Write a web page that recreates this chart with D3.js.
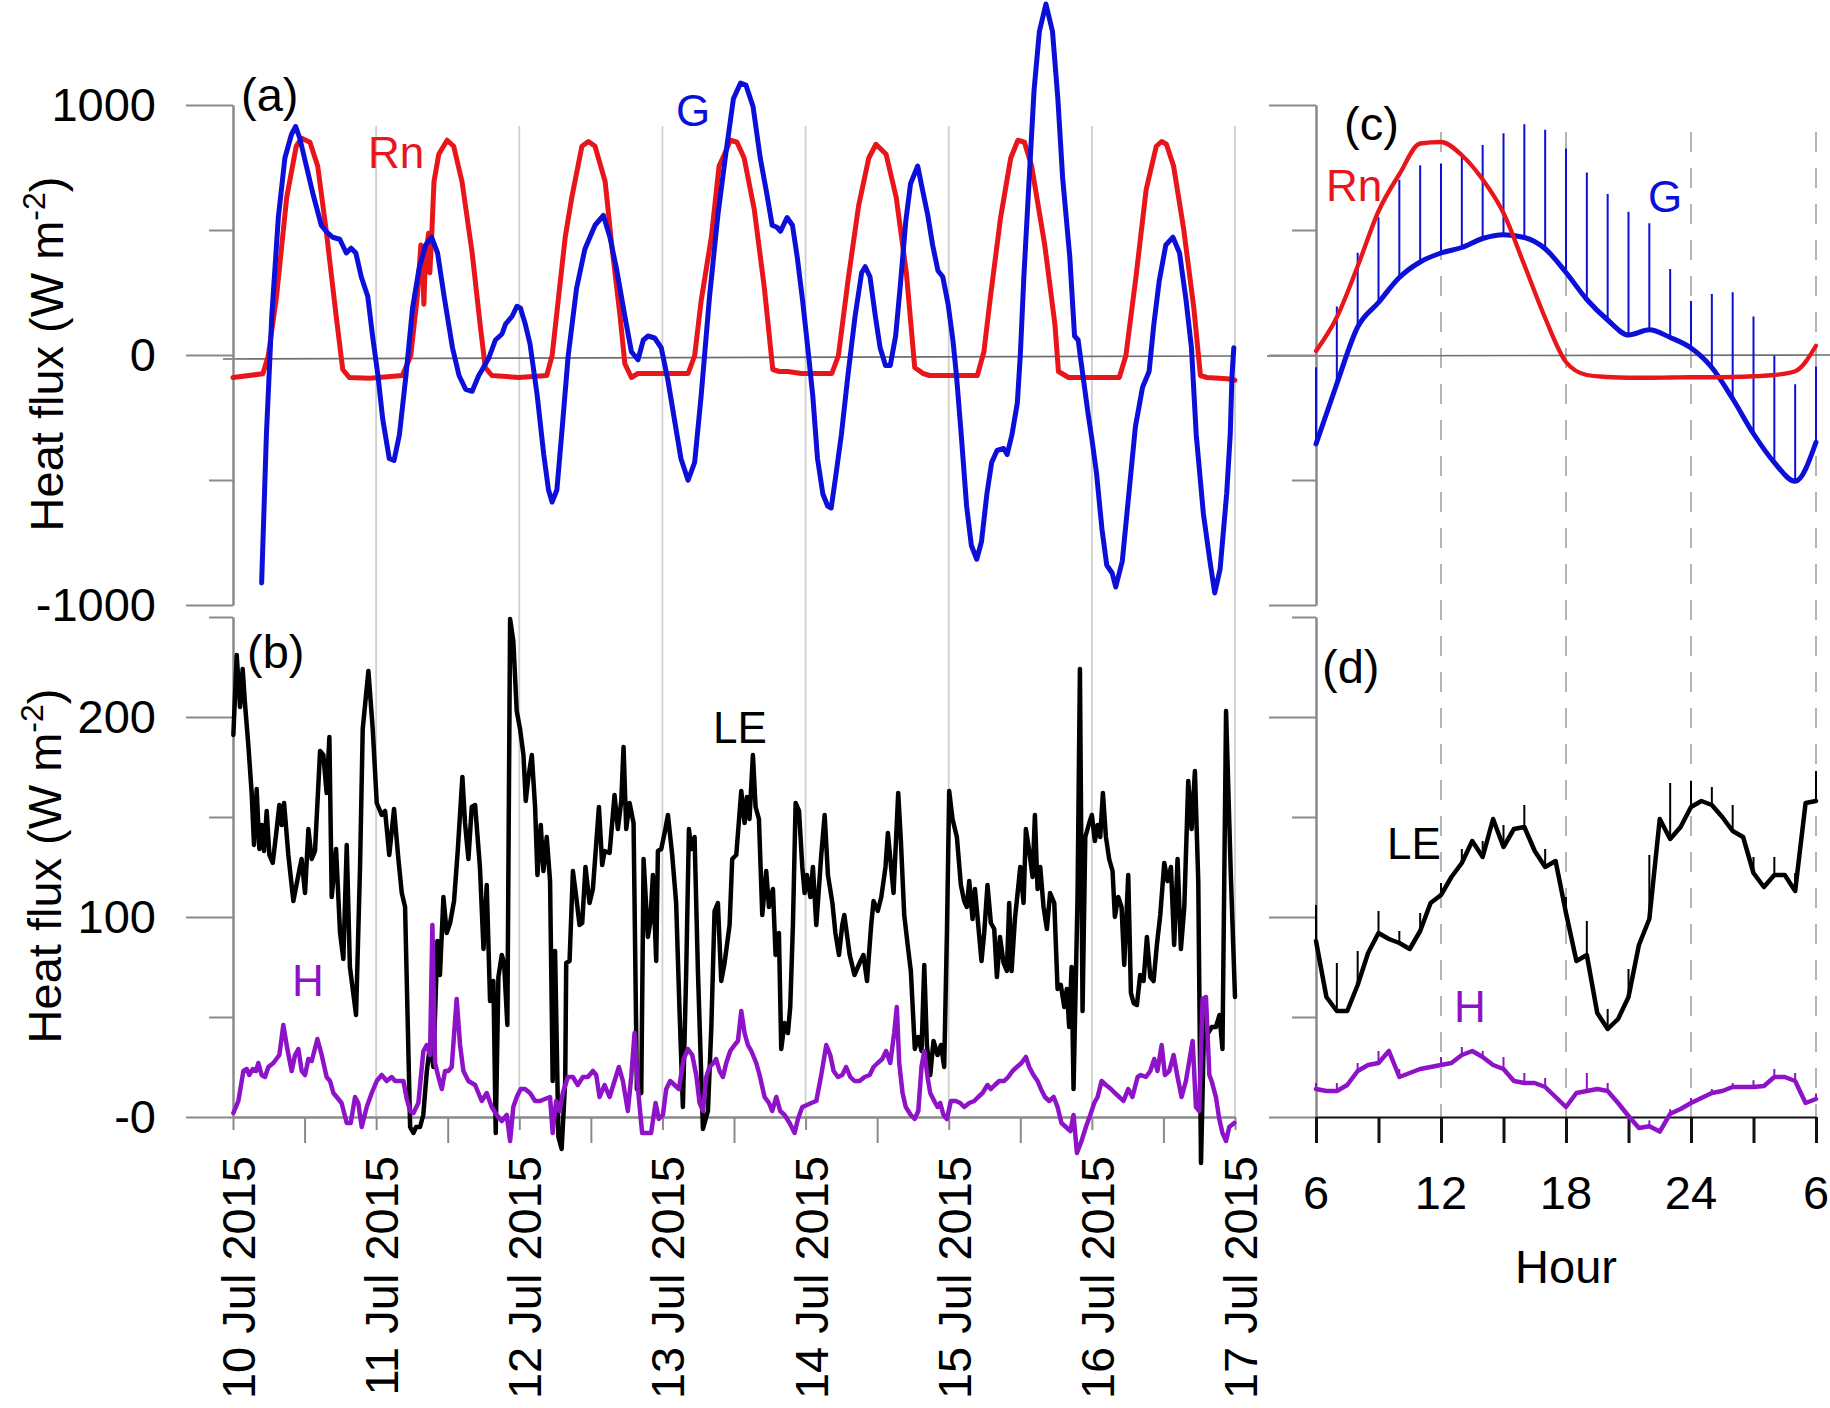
<!DOCTYPE html>
<html><head><meta charset="utf-8">
<script src="https://cdn.jsdelivr.net/npm/d3@7"></script>
<style>
body{margin:0;background:#fff}
svg{display:block}
text{font-family:"Liberation Sans",Arial,Helvetica,sans-serif}
</style>
</head><body>
<svg id="chart" width="1830" height="1408"></svg>
<script>
// ---------------- DATA ----------------
// Panel (a): [hour since 10 Jul 2015 00:00, W m-2]
const rnSeries = [[0,-90],[5,-75],[5.9,-5],[7.3,234],[9,630],[10.6,835],[11.5,867],[12.9,851],[14.2,756],[15.6,503],[17.3,155],[18.4,-58],[19.5,-90],[22.9,-93],[28.4,-82],[29.8,-3],[30.9,234],[31.5,440],[31.8,345],[32.0,203],[32.3,408],[32.8,487],[33.0,329],[33.3,471],[33.7,693],[34.5,803],[35.9,859],[37.0,835],[38.4,693],[40.1,408],[41.5,108],[42.3,-50],[43.4,-82],[47.9,-90],[52.6,-82],[53.5,-3],[54.6,234],[55.7,471],[56.8,630],[58.5,835],[59.6,854],[60.7,835],[62.4,693],[63.5,440],[64.9,155],[65.7,-35],[66.8,-90],[67.9,-74],[71.8,-74],[76.3,-74],[77.4,-3],[78.5,218],[80.2,471],[81.5,756],[82.4,803],[83.4,859],[84.5,851],[85.7,788],[87.4,582],[89.1,266],[90.5,-58],[91.6,-66],[93,-66],[95.3,-74],[100.4,-74],[101.5,-3],[103.2,313],[104.9,598],[106.6,788],[107.8,843],[109.5,803],[111.2,630],[112.9,329],[114.3,-50],[115.7,-74],[116.8,-82],[124.8,-82],[125.9,13],[127.0,234],[128.7,550],[130.4,788],[131.6,859],[132.7,851],[133.9,756],[136.1,440],[137.8,124],[138.4,-66],[140.1,-90],[148.6,-90],[149.7,-3],[151.4,313],[153.1,661],[154.8,835],[155.7,854],[156.5,843],[157.7,756],[159.4,503],[161.1,187],[162.2,-82],[163.3,-90],[166.7,-95],[168,-101]];
const gSeries = [[4.8,-912],[5.6,-319],[6.5,155],[7.6,550],[8.7,788],[9.8,882],[10.5,914],[11.2,867],[12.3,756],[13.4,645],[14.8,519],[15.6,495],[16.7,471],[17.9,463],[19.0,408],[19.8,427],[20.6,408],[21.5,313],[22.6,234],[23.4,76],[24.3,-82],[25.1,-256],[26.2,-414],[27.0,-422],[27.9,-319],[29.0,-82],[30.1,187],[31.2,345],[32.3,440],[33.3,471],[34.3,408],[35.4,234],[36.8,29],[37.9,-82],[39.0,-137],[40.1,-145],[41.2,-82],[41.8,-58],[42.9,-11],[44.0,60],[45.1,84],[45.7,124],[46.8,155],[47.6,195],[48.2,187],[49.0,124],[49.8,44],[51.0,-161],[52.1,-398],[52.9,-540],[53.5,-588],[54.3,-540],[55.1,-319],[56.2,-3],[57.6,266],[59.0,424],[60.7,519],[62.1,558],[63.2,471],[64.3,345],[65.7,155],[66.8,13],[67.9,-19],[68.8,60],[69.6,76],[70.7,68],[71.8,29],[72.9,-98],[74.0,-256],[75.1,-414],[76.3,-501],[77.4,-430],[78.5,-161],[79.9,234],[81.3,560],[82.6,800],[83.9,1025],[85.1,1088],[86.0,1080],[87.2,993],[88.4,788],[89.5,645],[90.4,519],[91.2,511],[91.8,495],[92.9,550],[93.8,519],[94.6,392],[95.5,218],[96.3,44],[97.2,-161],[98.0,-414],[98.9,-556],[99.7,-604],[100.3,-612],[101.1,-477],[102.0,-319],[103.1,-82],[104.3,155],[105.4,329],[106.0,353],[106.8,313],[107.7,155],[108.5,29],[109.4,-42],[110.2,-42],[111.1,76],[111.9,282],[112.8,535],[113.6,685],[114.8,756],[115.6,661],[116.5,558],[117.3,440],[118.2,337],[119.0,313],[119.9,203],[120.7,60],[121.3,-82],[122.1,-319],[123.0,-604],[123.8,-762],[124.7,-817],[125.5,-746],[126.4,-556],[127.2,-430],[128.1,-382],[129.2,-374],[129.8,-398],[130.6,-319],[131.5,-193],[132.0,-3],[132.6,313],[133.5,709],[134.3,1056],[135.2,1294],[136.3,1404],[137.4,1294],[138.3,1025],[139.1,709],[140.3,392],[141.1,76],[141.7,60],[142.5,-82],[143.4,-240],[144.0,-335],[144.8,-477],[145.7,-698],[146.5,-841],[147.4,-872],[148.0,-928],[149.1,-825],[150.2,-556],[151.3,-287],[152.5,-129],[153.6,-66],[154.4,124],[155.3,297],[156.4,440],[157.6,471],[158.7,408],[159.8,218],[160.7,29],[161.5,-319],[162.7,-635],[163.8,-825],[164.6,-952],[165.5,-857],[166.6,-556],[167.2,-319],[167.5,-82],[167.8,29]];

// Panel (b)
const leSeries = [[0.06,191],[0.62,231],[1.18,205],[1.62,224],[2.0,207],[2.57,186],[3.13,162],[3.52,136],[3.97,164],[4.42,134],[4.81,146],[5.2,133],[5.65,153],[6.1,131],[6.66,127],[7.33,144],[7.77,156],[8.16,146],[8.56,157],[9.28,131],[10.12,108],[10.96,121],[11.5,129],[12.08,112],[12.64,144],[13.2,129],[13.75,133],[14.6,183],[15.15,181],[15.7,162],[16.16,190],[16.55,110],[17.28,134],[17.95,92],[18.5,79],[19.07,136],[19.6,75],[20.63,51],[21.3,125],[21.75,194],[22.7,223],[23.43,194],[24.1,157],[24.93,151],[25.5,153],[26.2,131],[27.0,154],[27.73,129],[28.3,112],[28.85,105],[29.7,-5],[30.25,-8],[30.7,-5],[31.36,-5],[31.9,1],[32.5,23],[33.04,36],[33.6,25],[34.27,88],[34.7,71],[35.28,110],[35.83,92],[36.4,97],[37.06,108],[37.68,133],[38.46,170],[38.9,147],[39.47,129],[40.03,155],[40.59,156],[41.4,125],[42.0,84],[42.54,116],[43.1,58],[43.66,68],[44.05,-8],[44.5,70],[45.06,81],[45.45,77],[46.0,46],[46.46,249],[47.0,238],[47.57,203],[48.13,194],[48.7,181],[49.08,158],[49.53,170],[50.1,181],[50.65,155],[51.04,121],[51.6,146],[52.05,123],[52.6,140],[53.16,118],[53.6,18],[54.0,83],[54.56,-10],[55.1,-16],[55.7,18],[55.87,77],[56.43,78],[56.99,123],[57.55,110],[58.1,96],[58.55,97],[59.1,125],[59.78,107],[60.34,114],[61.35,155],[61.9,126],[62.3,133],[63.14,132],[63.97,161],[64.53,144],[65.1,158],[65.48,185],[65.93,144],[66.49,157],[67.16,147],[67.72,14],[68.45,12],[68.84,129],[69.56,90],[69.95,97],[70.4,121],[70.96,78],[71.24,133],[71.8,134],[72.5,144],[72.92,151],[73.64,131],[74.3,107],[74.87,53],[75.43,5],[75.99,73],[76.44,144],[76.83,134],[77.39,140],[77.95,73],[78.79,-6],[79.63,3],[80.2,45],[80.74,103],[81.3,107],[81.86,68],[82.42,77],[83.26,96],[83.7,129],[84.38,131],[85.22,163],[85.77,147],[86.17,160],[86.6,149],[87.17,181],[87.62,155],[88.18,149],[88.74,101],[89.4,123],[89.86,105],[90.53,114],[90.97,81],[91.53,92],[91.92,34],[92.48,47],[93.04,42],[93.43,55],[93.88,96],[94.33,157],[94.9,153],[95.45,125],[95.84,112],[96.23,121],[96.8,110],[97.23,125],[97.8,96],[98.63,131],[99.2,151],[99.75,121],[100.5,107],[101.0,92],[101.6,81],[102.15,96],[102.5,101],[103.4,81],[104.2,71],[105.06,77],[105.7,81],[106.3,68],[107.0,96],[107.4,108],[108.1,103],[108.7,110],[109.4,125],[109.8,142],[110.75,112],[111.53,162],[111.98,138],[112.54,101],[113.2,84],[113.65,73],[114.32,34],[114.88,40],[115.44,33],[115.9,76],[116.34,36],[116.9,21],[117.45,38],[118.13,31],[118.7,36],[119.24,25],[119.7,92],[120.08,163],[120.64,149],[121.37,140],[122.04,116],[122.6,108],[123.05,105],[123.44,118],[124.0,99],[124.4,114],[124.95,96],[125.5,78],[125.95,92],[126.5,116],[127.07,97],[127.63,94],[128.08,70],[128.6,90],[129.2,77],[129.75,73],[130.14,107],[130.54,73],[131.1,99],[132.0,125],[132.55,107],[132.94,144],[133.5,133],[134.06,120],[134.45,151],[134.9,114],[135.34,125],[135.9,105],[136.46,94],[137.0,112],[137.7,107],[138.25,64],[138.8,66],[139.37,55],[139.8,64],[140.2,45],[140.6,75],[140.93,14],[141.6,110],[142.0,224],[142.44,53],[142.9,140],[143.56,147],[144.0,151],[144.5,138],[144.96,146],[145.4,140],[145.85,162],[146.36,140],[146.9,129],[147.47,123],[147.86,100],[148.42,110],[148.98,105],[149.43,76],[150.1,121],[150.55,62],[151.0,57],[151.55,56],[152.1,71],[152.67,68],[153.23,90],[153.8,70],[154.35,68],[154.9,86],[155.47,101],[156.14,127],[156.7,118],[157.26,125],[157.8,86],[158.37,129],[158.93,84],[159.5,105],[160.16,168],[160.72,144],[161.28,173],[161.84,118],[162.3,-23],[162.85,51],[163.5,42],[164.1,45],[164.8,45],[165.4,51],[165.9,34],[166.5,203],[167.3,121],[168,60]];
const hSeries = [[0.06,2],[0.9,8],[1.74,23],[2.3,24],[2.74,21],[3.3,24],[3.86,23],[4.25,27],[4.8,21],[5.37,20],[5.93,25],[6.77,27],[7.77,31],[8.44,46],[9.11,34],[9.84,23],[10.4,31],[10.96,34],[11.52,23],[12.08,21],[12.64,29],[13.2,28],[14.15,39],[14.87,31],[15.7,20],[16.27,18],[16.83,12],[17.39,10],[18.2,7],[19.07,-3],[19.74,-3],[20.46,10],[21.0,7],[21.58,-5],[22.42,5],[23.26,12],[24.1,18],[24.93,21],[25.77,18],[26.6,20],[27.17,18],[28.0,18],[28.57,18],[29.13,9],[29.7,3],[30.25,2],[31.08,7],[31.92,33],[32.48,36],[33.04,31],[33.43,96],[33.88,27],[34.44,20],[35.0,14],[35.56,23],[36.1,23],[36.67,25],[37.5,59],[38.07,36],[38.63,23],[39.47,18],[40.6,16],[41.7,8],[42.54,12],[43.38,5],[44.22,1],[45.06,-2],[45.9,1],[46.46,-12],[47.0,5],[47.57,10],[48.24,14],[48.97,14],[49.8,12],[50.65,8],[51.5,8],[52.3,9],[53.16,10],[53.6,-8],[54.17,8],[54.75,3],[55.3,12],[56.15,20],[56.99,20],[57.8,16],[58.66,20],[59.5,20],[60.34,23],[60.9,21],[61.46,10],[62.3,16],[63.14,10],[63.97,18],[64.7,25],[65.37,18],[66.2,3],[66.77,20],[67.33,42],[67.9,14],[68.6,-8],[69.3,-8],[70.1,-8],[70.85,7],[71.4,-1],[72.08,1],[72.64,14],[73.3,18],[74.04,16],[74.76,14],[75.55,29],[76.27,34],[77.0,31],[77.67,21],[78.23,7],[78.79,3],[79.35,20],[79.9,25],[80.58,27],[81.0,29],[81.58,23],[82.14,20],[82.7,27],[83.37,33],[84.1,36],[84.66,38],[85.22,53],[85.77,42],[86.33,36],[86.9,33],[87.73,27],[88.29,21],[89.13,10],[89.86,7],[90.4,3],[91.1,10],[91.75,3],[92.48,1],[93.32,-3],[94.16,-8],[94.72,-1],[95.45,5],[96.23,6],[96.95,7],[97.8,8],[98.63,21],[99.47,36],[100.14,31],[100.7,23],[101.43,20],[102.15,21],[102.8,25],[103.5,20],[104.2,18],[105.06,18],[105.9,20],[106.74,21],[107.4,25],[108.1,27],[108.86,29],[109.5,33],[110.2,27],[110.86,42],[111.3,55],[111.7,27],[112.26,12],[112.8,5],[113.65,1],[114.3,-1],[114.9,3],[115.44,25],[115.9,33],[116.45,20],[116.9,12],[117.57,8],[118.13,5],[118.57,7],[119.13,1],[119.7,-1],[120.36,8],[121.2,8],[121.93,7],[122.6,5],[123.44,7],[124.28,8],[124.95,10],[125.67,12],[126.5,16],[127.07,14],[127.74,16],[128.47,18],[129.3,18],[129.98,20],[130.7,23],[131.43,25],[132.2,27],[132.94,30],[133.5,25],[134.2,21],[134.9,18],[135.46,14],[136.13,10],[136.85,8],[137.6,10],[138.25,5],[138.9,-3],[139.65,-5],[140.4,-7],[140.93,1],[141.5,-18],[142.27,-12],[143.0,-5],[143.73,1],[144.4,7],[144.96,10],[145.63,18],[146.36,16],[147.2,14],[147.86,12],[148.6,10],[149.3,8],[150.1,14],[150.8,10],[151.67,20],[152.2,21],[153.06,20],[153.8,23],[154.46,29],[155.0,23],[155.7,36],[156.25,21],[156.98,23],[157.7,31],[158.37,20],[159.04,10],[159.77,18],[160.5,31],[160.9,38],[161.45,5],[162.0,3],[162.57,59],[163.13,60],[163.7,21],[164.08,18],[164.8,10],[165.36,-1],[165.9,-8],[166.5,-12],[167.04,-5],[167.88,-3]];

// Date tick labels (panel b x-axis)
const dayHours = [0,24,48,72,96,120,144,168];
const dayLabels = ["10 Jul 2015","11 Jul 2015","12 Jul 2015","13 Jul 2015","14 Jul 2015","15 Jul 2015","16 Jul 2015","17 Jul 2015"];
const noonHours = [12,36,60,84,108,132,156];

// Panels (c),(d): mean diurnal course, hour of day 6 -> 30 (= 6 next day)
const hourlyHours = [6,7,8,9,10,11,12,13,14,15,16,17,18,19,20,21,22,23,24,25,26,27,28,29,30];
const rnDiurnal = [16,151,355,575,723,846,852,799,702,568,360,148,-28,-80,-88,-91,-91,-90,-89,-89,-88,-85,-80,-65,37];
const gDiurnal  = [-356,-115,112,210,310,372,408,430,466,481,470,425,330,222,140,80,101,70,28,-50,-175,-315,-430,-505,-349];
const gUpper    = [-49,194,409,551,701,759,766,791,840,887,923,901,826,730,644,573,527,344,216,244,251,154,-3,-117,-46];
const halfHours = [6,6.5,7,7.5,8,8.5,9,9.5,10,10.5,11,11.5,12,12.5,13,13.5,14,14.5,15,15.5,16,16.5,17,17.5,18,18.5,19,19.5,20,20.5,21,21.5,22,22.5,23,23.5,24,24.5,25,25.5,26,26.5,27,27.5,28,28.5,29,29.5,30];
const leDiurnal = [88,60,53,53,66,82,92,89,87,84,93,107,111,120,127,138,130,149,135,144,145,133,125,128,102,78,81,52,44,49,60,86,99,149,139,145,155,158,156,150,143,140,122,115,121,121,113,157,158];
const leUpper   = [106,77,83,103,93,102,117,134,138,146,156,134,110,98,54,74,131,167,168,165,156,130,130,122,173];
const hDiurnal  = [14,13,13,16,23,26,27,33,20,22,24,25,26,27,31,33,30,26,24,18,17,17,15,10,5,12,13,14,13,7,0.5,-5.5,-4.6,-7.3,1.6,4,7,9.5,12,13,15,15,15,15.5,20,20,18,7,9];
const hUpper    = [17,17,27,33,24,25,30,35,33,30,22,19.5,6,22,17,1.6,-1.7,3.9,9.5,14,17,18.4,24,22,11.7];
const diurnalTicks = [6,9,12,15,18,21,24,27,30];
const diurnalLabelHours = [6,12,18,24,30];
const diurnalLabels = ["6","12","18","24","6"];
const dashHours = [12,18,24,30];

// ---------------- STYLE ----------------
const RED = "#e8151b", BLUE = "#0c0fd8", PURPLE = "#8d12c8", AXIS = "#8a8a8a", GRID = "#d0d0d0";
const FS = 47, FS2 = 44;

// ---------------- SCALES ----------------
const svg = d3.select("#chart");
const xT = d3.scaleLinear().domain([0,168]).range([233,1235]);
const yA = d3.scaleLinear().domain([-1000,1000]).range([605,105]);
const yB = d3.scaleLinear().domain([0,250]).range([1117,617]);
const xC = d3.scaleLinear().domain([6,30]).range([1316,1816]);

// ---------------- GRID ----------------
svg.append("g").selectAll("line").data(dayHours.slice(1)).join("line")
  .attr("x1",d=>xT(d)).attr("x2",d=>xT(d)).attr("y1",126).attr("y2",yB(0))
  .attr("stroke",GRID).attr("stroke-width",1.8);
svg.append("g").selectAll("line").data(dashHours).join("line")
  .attr("x1",d=>xC(d)).attr("x2",d=>xC(d)).attr("y1",132).attr("y2",yB(0))
  .attr("stroke","#b4b4b4").attr("stroke-width",2).attr("stroke-dasharray","20,16");

// zero lines of upper panels
svg.append("line").attr("x1",223).attr("x2",xT(168)).attr("y1",yA(0)+4).attr("y2",yA(0)+1)
  .attr("stroke","#6e6e6e").attr("stroke-width",1.6);
svg.append("line").attr("x1",1267).attr("x2",1830).attr("y1",yA(0)+1).attr("y2",yA(0))
  .attr("stroke","#6e6e6e").attr("stroke-width",1.6);

// ---------------- AXES ----------------
function styleAxis(g, color, width){
  g.selectAll("path,line").attr("stroke",color).attr("stroke-width",width);
  g.selectAll("text").attr("font-size",FS).attr("fill","#000").attr("font-family",'"Liberation Sans",Arial,sans-serif');
}
function yAxis(scale, x, major, minor, fmt){
  const g1 = svg.append("g").attr("transform",`translate(${x},0)`)
    .call(d3.axisLeft(scale).tickValues(minor).tickSize(24).tickSizeOuter(0).tickFormat(""));
  styleAxis(g1, AXIS, 2);
  const g2 = svg.append("g").attr("transform",`translate(${x},0)`)
    .call(d3.axisLeft(scale).tickValues(major).tickSize(47).tickSizeOuter(0).tickPadding(30).tickFormat(fmt));
  styleAxis(g2, AXIS, 2);
}
yAxis(yA, xT(0), [-1000,0,1000], [-500,500], d=>String(d));
yAxis(yB, xT(0), [0,100,200], [50,150,250], d=> d===0 ? "-0" : String(d));
yAxis(yA, xC(6), [-1000,0,1000], [-500,500], "");
yAxis(yB, xC(6), [0,100,200], [50,150,250], "");

// panel (b) bottom axis
const gbx = svg.append("g").attr("transform",`translate(0,${yB(0)})`)
  .call(d3.axisBottom(xT).tickValues(noonHours).tickSize(26).tickSizeOuter(0).tickFormat(""));
styleAxis(gbx, AXIS, 2);
const gbx2 = svg.append("g").attr("transform",`translate(0,${yB(0)})`)
  .call(d3.axisBottom(xT).tickValues(dayHours).tickSize(13).tickSizeOuter(0).tickFormat(""));
styleAxis(gbx2, AXIS, 2);
svg.append("g").selectAll("text").data(dayHours).join("text")
  .attr("transform",(d)=>`translate(${xT(d)+22},1156) rotate(-90)`)
  .attr("text-anchor","end").attr("font-size",FS).attr("fill","#000")
  .text((d,i)=>dayLabels[i]);

// panel (d) bottom axis
const gdx = svg.append("g").attr("transform",`translate(0,${yB(0)})`)
  .call(d3.axisBottom(xC).tickValues(diurnalTicks).tickSize(26).tickSizeOuter(0).tickFormat(""));
styleAxis(gdx, "#111", 3);
gdx.select("path").attr("stroke-width",2);
svg.append("g").selectAll("text").data(diurnalLabelHours).join("text")
  .attr("x",d=>xC(d)).attr("y",1209).attr("text-anchor","middle")
  .attr("font-size",FS).attr("fill","#000").text((d,i)=>diurnalLabels[i]);
svg.append("text").attr("x",(xC(6)+xC(30))/2).attr("y",1283).attr("text-anchor","middle")
  .attr("font-size",FS).attr("fill","#000").text("Hour");

// y titles
function yTitle(cx, cy){
  const t = svg.append("text").attr("transform",`translate(${cx},${cy}) rotate(-90)`)
    .attr("text-anchor","middle").attr("font-size",FS).attr("fill","#000");
  t.append("tspan").text("Heat flux (W m");
  t.append("tspan").attr("font-size",FS*0.68).attr("dy",-FS*0.38).text("-2");
  t.append("tspan").attr("dy",FS*0.38).text(")");
}
yTitle(63, 354);
yTitle(61, 866);

// ---------------- LINES ----------------
const lineT = (ys) => d3.line().x(d=>xT(d[0])).y(d=>ys(d[1]));
function path(data, gen, color, w){
  svg.append("path").datum(data).attr("d",gen).attr("fill","none")
    .attr("stroke",color).attr("stroke-width",w).attr("stroke-linejoin","round").attr("stroke-linecap","round");
}
// panel (a)
path(rnSeries, lineT(yA), RED, 5);
path(gSeries, lineT(yA), BLUE, 5);
// panel (b)
path(leSeries, lineT(yB), "#000", 4.5);
path(hSeries, lineT(yB), PURPLE, 4.5);

// panel (c)
const gAt = hourlyHours.map((h,i)=>({h, lo:gDiurnal[i], hi:gUpper[i]}));
svg.append("g").selectAll("line").data(gAt).join("line")
  .attr("x1",d=>xC(d.h)).attr("x2",d=>xC(d.h)).attr("y1",d=>yA(d.lo)).attr("y2",d=>yA(d.hi))
  .attr("stroke",BLUE).attr("stroke-width",2);
const lineC = d3.line().curve(d3.curveMonotoneX).x((d,i)=>xC(hourlyHours[i])).y(d=>yA(d));
path(gDiurnal, lineC, BLUE, 5);
path(rnDiurnal, lineC, RED, 4.3);

// panel (d)
const leAt = hourlyHours.map((h,i)=>({h, lo:leDiurnal[halfHours.indexOf(h)], hi:leUpper[i]}));
const hAt = hourlyHours.map((h,i)=>({h, lo:hDiurnal[halfHours.indexOf(h)], hi:hUpper[i]}));
svg.append("g").selectAll("line").data(leAt).join("line")
  .attr("x1",d=>xC(d.h)).attr("x2",d=>xC(d.h)).attr("y1",d=>yB(d.lo)).attr("y2",d=>yB(d.hi))
  .attr("stroke","#000").attr("stroke-width",2);
svg.append("g").selectAll("line").data(hAt).join("line")
  .attr("x1",d=>xC(d.h)).attr("x2",d=>xC(d.h)).attr("y1",d=>yB(d.lo)).attr("y2",d=>yB(d.hi))
  .attr("stroke",PURPLE).attr("stroke-width",2);
const lineD = d3.line().x((d,i)=>xC(halfHours[i])).y(d=>yB(d));
path(leDiurnal, lineD, "#000", 4.5);
path(hDiurnal, lineD, PURPLE, 4.5);

// ---------------- LABELS ----------------
const labels = [
  {t:"(a)", x:241, y:111, c:"#000", s:FS},
  {t:"(b)", x:247, y:668, c:"#000", s:FS},
  {t:"(c)", x:1344, y:140, c:"#000", s:FS},
  {t:"(d)", x:1322, y:683, c:"#000", s:FS},
  {t:"Rn", x:368, y:168, c:RED, s:FS2},
  {t:"G", x:676, y:126, c:BLUE, s:FS2},
  {t:"Rn", x:1326, y:201, c:RED, s:FS2},
  {t:"G", x:1648, y:212, c:BLUE, s:FS2},
  {t:"LE", x:713, y:743, c:"#000", s:FS2},
  {t:"H", x:292, y:996, c:PURPLE, s:FS2},
  {t:"LE", x:1387, y:859, c:"#000", s:FS2},
  {t:"H", x:1454, y:1022, c:PURPLE, s:FS2}
];
svg.append("g").selectAll("text").data(labels).join("text")
  .attr("x",d=>d.x).attr("y",d=>d.y).attr("fill",d=>d.c).attr("font-size",d=>d.s).text(d=>d.t);
</script>
</body></html>
